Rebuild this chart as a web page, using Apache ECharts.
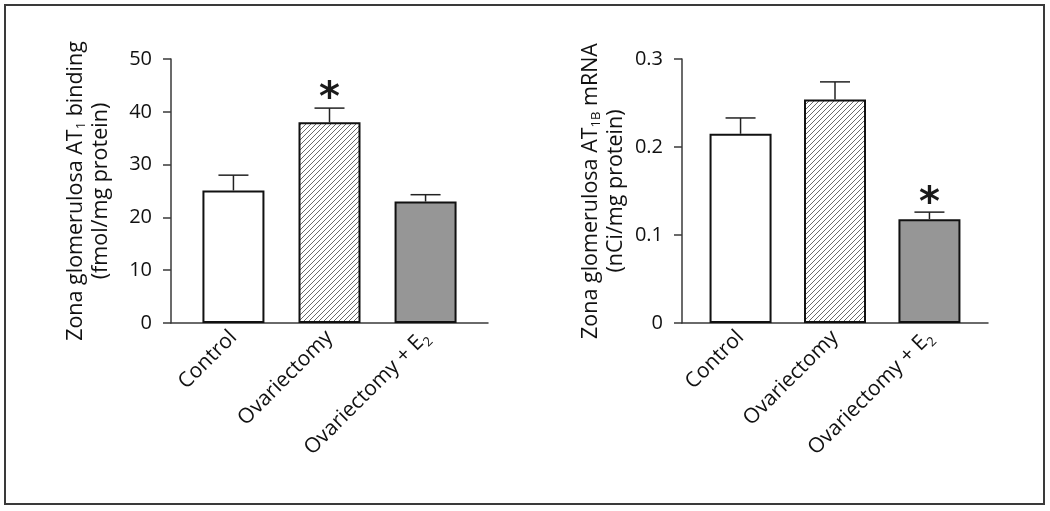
<!DOCTYPE html>
<html>
<head>
<meta charset="utf-8">
<script src="https://cdn.jsdelivr.net/npm/echarts@6/dist/echarts.min.js"></script>
<style>
html,body{margin:0;padding:0;background:#fff;}
#chart{width:1050px;height:511px;}
</style>
</head>
<body>
<div id="chart"></div>
<script>
// ---- data ----
const categories = ['Control', 'Ovariectomy', 'Ovariectomy + E{sub|2}'];
const bindingMean = [25.1, 38.0, 23.0];
const bindingUpper = [28.0, 40.7, 24.3];
const bindingSig = [false, true, false];
const mrnaMean = [0.215, 0.254, 0.118];
const mrnaUpper = [0.233, 0.274, 0.126];
const mrnaSig = [false, false, true];
const leftTicks = [0, 10, 20, 30, 40, 50];
const rightTicks = [0, 0.1, 0.2, 0.3];

// ---- styles ----
const FONT = '"Open Sans", "DejaVu Sans", sans-serif';
const AX = '#3a3a3a';
const TXT = '#111111';

function hatchPattern() {
  const c = document.createElement('canvas');
  const s = 5;
  c.width = s; c.height = s;
  const g = c.getContext('2d');
  g.fillStyle = '#ffffff';
  g.fillRect(0, 0, s, s);
  g.strokeStyle = '#6a6a6a';
  g.lineWidth = 1;
  g.beginPath();
  g.moveTo(-1, s + 1); g.lineTo(s + 1, -1);
  g.moveTo(-1, 1); g.lineTo(1, -1);
  g.moveTo(s - 1, s + 1); g.lineTo(s + 1, s - 1);
  g.stroke();
  return c;
}
const fills = ['#ffffff', { image: hatchPattern(), repeat: 'repeat' }, '#969696'];

function barData(means) {
  return means.map((v, i) => ({ value: [i, v], itemStyle: { color: fills[i] } }));
}
function errData(means, upper, sig) {
  return means.map((v, i) => [i, v, upper[i], sig[i] ? 1 : 0]);
}
function errRender(params, api) {
  const x = api.value(0);
  const p0 = api.coord([x, api.value(1)]);
  const p1 = api.coord([x, api.value(2)]);
  const half = 15;
  const children = [
    { type: 'line', shape: { x1: p0[0], y1: p0[1], x2: p1[0], y2: p1[1] }, style: { stroke: '#222', lineWidth: 1.5 } },
    { type: 'line', shape: { x1: p1[0] - half, y1: p1[1], x2: p1[0] + half, y2: p1[1] }, style: { stroke: '#222', lineWidth: 1.5 } }
  ];
  if (api.value(3) === 1) {
    children.push({
      type: 'text',
      style: { text: '*', x: p1[0], y: p1[1] + 12, align: 'center', verticalAlign: 'bottom', fontSize: 40, fontWeight: 'bold', fontFamily: '"DejaVu Sans", sans-serif', fill: '#1a1a1a' }
    });
  }
  return { type: 'group', children };
}

function subStyle(lh) {
  return { fontSize: 13, verticalAlign: 'bottom', lineHeight: lh, fontFamily: FONT, color: TXT };
}

function xAxisCfg(grid, min, max) {
  return {
    type: 'value', gridIndex: grid, min: min, max: max,
    splitLine: { show: false },
    axisLine: { show: true, onZero: false, lineStyle: { color: AX, width: 1.5 } },
    axisTick: { show: false, customValues: [0, 1, 2] },
    axisLabel: {
      customValues: [0, 1, 2],
      rotate: 45, margin: 11,
      fontFamily: FONT, fontSize: 21, lineHeight: 28, color: TXT,
      formatter: v => categories[Math.round(v)],
      rich: { sub: subStyle(28) }
    }
  };
}
function yAxisCfg(grid, ticks, name, gap, fmt) {
  return {
    type: 'value', gridIndex: grid, min: ticks[0], max: ticks[ticks.length - 1],
    interval: ticks[1] - ticks[0],
    splitLine: { show: false },
    axisLine: { show: true, onZero: false, lineStyle: { color: AX, width: 1.5 } },
    axisTick: { show: true, length: 8, lineStyle: { color: AX, width: 1.5 } },
    axisLabel: { margin: 19, fontFamily: FONT, fontSize: 20, color: TXT, formatter: fmt },
    name: name, nameLocation: 'middle', nameGap: gap,
    nameTextStyle: {
      fontFamily: FONT, fontSize: 21.5, color: TXT, lineHeight: 25, align: 'center',
      rich: { sub: subStyle(25) }
    }
  };
}

const chart = echarts.init(document.getElementById('chart'), null, { renderer: 'canvas' });
chart.setOption({
  animation: false,
  backgroundColor: '#ffffff',
  graphic: [{
    type: 'rect', shape: { x: 5, y: 5, width: 1039, height: 499 },
    style: { fill: 'none', stroke: '#3a3a3a', lineWidth: 2 }, silent: true
  }],
  grid: [
    { left: 171, top: 59, width: 317, height: 264 },
    { left: 682, top: 59, width: 306, height: 264 }
  ],
  xAxis: [xAxisCfg(0, -0.65, 2.65), xAxisCfg(1, -0.62, 2.62)],
  yAxis: [
    yAxisCfg(0, leftTicks, 'Zona glomerulosa AT{sub|1} binding\n(fmol/mg protein)', 58, v => String(v)),
    yAxisCfg(1, rightTicks, 'Zona glomerulosa AT{sub|1B} mRNA\n(nCi/mg protein)', 54, v => v === 0 ? '0' : v.toFixed(1))
  ],
  series: [
    { type: 'bar', xAxisIndex: 0, yAxisIndex: 0, barWidth: 62, data: barData(bindingMean),
      itemStyle: { borderColor: '#111', borderWidth: 2 } },
    { type: 'bar', xAxisIndex: 1, yAxisIndex: 1, barWidth: 62, data: barData(mrnaMean),
      itemStyle: { borderColor: '#111', borderWidth: 2 } },
    { type: 'custom', xAxisIndex: 0, yAxisIndex: 0, renderItem: errRender, data: errData(bindingMean, bindingUpper, bindingSig), z: 3 },
    { type: 'custom', xAxisIndex: 1, yAxisIndex: 1, renderItem: errRender, data: errData(mrnaMean, mrnaUpper, mrnaSig), z: 3 }
  ]
});
</script>
</body>
</html>
